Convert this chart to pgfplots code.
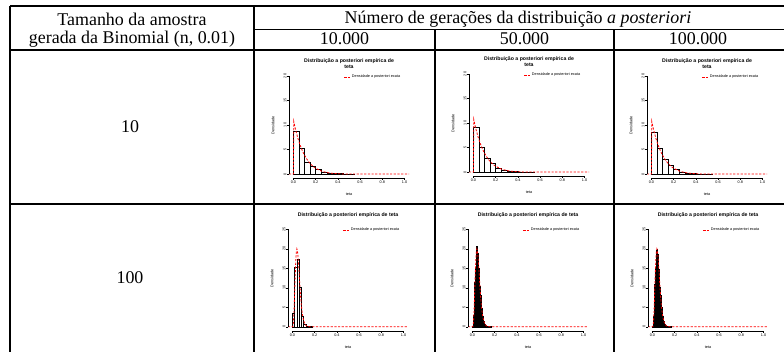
\documentclass[border=0pt]{standalone}
\usepackage{fontspec}
\setmainfont{Liberation Serif}
\newfontfamily\arial{Liberation Sans}
\usepackage{pgfplots}
\pgfplotsset{compat=1.18}
\newcommand\thumbfont{\arial\fontsize{3.8}{4.3}\selectfont}
\newcommand\thumbtitle{\arial\bfseries\fontsize{5.2}{5.6}\selectfont}
\newcommand\hdr{\fontsize{18}{20}\selectfont}
\pgfplotsset{
  thumb/.style={
    scale only axis, width=120bp, height=106bp,
    xmin=-0.04, xmax=1.04,
    axis line style={draw=none},
    tick align=outside, tick pos=left,
    major tick length=1.6bp,
    every tick/.style={black, line width=0.45bp},
    xtick={0,0.2,0.4,0.6,0.8,1}, xticklabels={0.0,0.2,0.4,0.6,0.8,1.0},
    /pgf/number format/assume math mode=true,
    tick label style={font=\thumbfont, inner sep=0.8bp},
    yticklabel style={rotate=90, anchor=south},
    xlabel={teta}, ylabel={Densidade},
    label style={font=\thumbfont},
    xlabel style={at={(axis description cs:0.5,-0.151)}, anchor=center},
    ylabel style={at={(axis description cs:-0.133,0.5)}, anchor=center},
    clip=false,
    legend style={draw=none, fill=none, font=\thumbfont, at={(0.458,0.953)}, anchor=west, inner sep=0pt, outer sep=0pt,
      nodes={inner sep=0.6bp}},
    legend image code/.code={\draw[red, line width=0.9bp, dash pattern=on 2.2bp off 1.3bp] (0bp,0bp) -- (6.5bp,0bp);},
  },
  row1/.style={thumb, ymin=-0.8, ymax=20.8, ytick={0,5,10,15,20}},
  row2/.style={thumb, ymin=-1.08, ymax=26.08, ytick={0,5,10,15,20,25}},
  hist/.style={ybar interval, draw=black, fill=white, line width=0.5bp, forget plot},
  dens/.style={red, line width=0.8bp, dash pattern=on 2.2bp off 1.5bp},
}
\newcommand\axlines[1]{%
  \draw[line width=0.5bp] ({axis cs:0,0}|-{rel axis cs:0,0}) -- ({axis cs:1,0}|-{rel axis cs:0,0});
  \draw[line width=0.5bp] ({rel axis cs:0,0}|-{axis cs:0,0}) -- ({rel axis cs:0,0}|-{axis cs:0,#1});
}
\begin{document}
\begin{tikzpicture}
\useasboundingbox (0,0) rectangle (784bp,352bp);
\fill[white] (0,0) rectangle (784bp,352bp);
% table rules
\begin{scope}[line width=1.6bp]
\draw (10bp,346bp) -- (784bp,346bp);
\draw (254bp,322.5bp) -- (784bp,322.5bp);
\draw (10bp,302bp) -- (784bp,302bp);
\draw (10bp,148bp) -- (784bp,148bp);
\draw (10bp,346bp) -- (10bp,0bp);
\draw (254bp,346bp) -- (254bp,0bp);
\draw (435bp,322.5bp) -- (435bp,0bp);
\draw (614bp,322.5bp) -- (614bp,0bp);
\end{scope}
% header text
\node[anchor=base, inner sep=0pt, font=\hdr] at (132bp,326bp) {Tamanho da amostra};
\node[anchor=base, inner sep=0pt, font=\hdr] at (132bp,308bp) {gerada da Binomial (n, 0.01)};
\node[anchor=base, inner sep=0pt, font=\hdr] at (518bp,328bp) {Número de gerações da distribuição \textit{a posteriori}};
\node[anchor=base, inner sep=0pt, font=\hdr] at (344.5bp,307.5bp) {10.000};
\node[anchor=base, inner sep=0pt, font=\hdr] at (524.5bp,307.5bp) {50.000};
\node[anchor=base, inner sep=0pt, font=\hdr] at (698bp,307.5bp) {100.000};
\node[anchor=base, inner sep=0pt, font=\hdr] at (130bp,219bp) {10};
\node[anchor=base, inner sep=0pt, font=\hdr] at (130bp,68bp) {100};

% ---------- Row 1, col 1
\begin{axis}[row1, at={(289bp,174bp)}, anchor=south west]
\addplot[hist] coordinates {(0,8.7) (0.05,5.3) (0.1,2.5) (0.15,1.6) (0.2,0.95) (0.25,0.45) (0.3,0.25) (0.35,0.12) (0.4,0.07) (0.45,0.04) (0.5,0.02) (0.55,0)};
\addplot[dens] coordinates {(-0.04,0) (0,0) (0.003,10.7) (0.01,9.95) (0.02,8.99) (0.03,8.11) (0.04,7.31) (0.05,6.59) (0.06,5.92) (0.07,5.32) (0.08,4.78) (0.09,4.28) (0.1,3.84) (0.12,3.06) (0.14,2.43) (0.16,1.92) (0.18,1.51) (0.2,1.18) (0.25,0.62) (0.3,0.31) (0.35,0.15) (0.4,0.067) (0.45,0.028) (0.5,0.011) (0.6,0.001) (0.8,0) (1.04,0)};
\addlegendentry{Densidade a posteriori exata}
\axlines{20}
\node[font=\thumbtitle, align=center, anchor=south, inner sep=0pt] at ([yshift=3.5bp]rel axis cs:0.5,1) {Distribuição a posteriori empírica de\\teta};
\end{axis}

% ---------- Row 1, col 2
\begin{axis}[row1, at={(469bp,176bp)}, anchor=south west]
\addplot[hist] coordinates {(0,9.1) (0.05,5.1) (0.1,2.8) (0.15,1.7) (0.2,0.8) (0.25,0.4) (0.3,0.2) (0.35,0.1) (0.4,0.05) (0.45,0.02) (0.5,0.01) (0.55,0)};
\addplot[dens] coordinates {(-0.04,0) (0,0) (0.003,10.7) (0.01,9.95) (0.02,8.99) (0.03,8.11) (0.04,7.31) (0.05,6.59) (0.06,5.92) (0.07,5.32) (0.08,4.78) (0.09,4.28) (0.1,3.84) (0.12,3.06) (0.14,2.43) (0.16,1.92) (0.18,1.51) (0.2,1.18) (0.25,0.62) (0.3,0.31) (0.35,0.15) (0.4,0.067) (0.45,0.028) (0.5,0.011) (0.6,0.001) (0.8,0) (1.04,0)};
\addlegendentry{Densidade a posteriori exata}
\axlines{20}
\node[font=\thumbtitle, align=center, anchor=south, inner sep=0pt] at ([yshift=3.5bp]rel axis cs:0.5,1) {Distribuição a posteriori empírica de\\teta};
\end{axis}

% ---------- Row 1, col 3
\begin{axis}[row1, at={(647bp,174bp)}, anchor=south west]
\addplot[hist] coordinates {(0,8.5) (0.05,5.3) (0.1,3.0) (0.15,1.75) (0.2,1.05) (0.25,0.45) (0.3,0.22) (0.35,0.1) (0.4,0.05) (0.45,0.03) (0.5,0.01) (0.55,0)};
\addplot[dens] coordinates {(-0.04,0) (0,0) (0.003,10.7) (0.01,9.95) (0.02,8.99) (0.03,8.11) (0.04,7.31) (0.05,6.59) (0.06,5.92) (0.07,5.32) (0.08,4.78) (0.09,4.28) (0.1,3.84) (0.12,3.06) (0.14,2.43) (0.16,1.92) (0.18,1.51) (0.2,1.18) (0.25,0.62) (0.3,0.31) (0.35,0.15) (0.4,0.067) (0.45,0.028) (0.5,0.011) (0.6,0.001) (0.8,0) (1.04,0)};
\addlegendentry{Densidade a posteriori exata}
\axlines{20}
\node[font=\thumbtitle, align=center, anchor=south, inner sep=0pt] at ([yshift=3.5bp]rel axis cs:0.5,1) {Distribuição a posteriori empírica de\\teta};
\end{axis}

% ---------- Row 2, col 1
\begin{axis}[row2, at={(288bp,21bp)}, anchor=south west]
\addplot[hist] coordinates {(0,3.4) (0.02,15.2) (0.04,17.4) (0.06,10.2) (0.08,2.8) (0.1,0.75) (0.12,0.2) (0.14,0.05) (0.16,0.05) (0.18,0)};
\addplot[dens] coordinates {(-0.04,0) (0,0) (0.005,0.15) (0.01,1.45) (0.015,4.53) (0.02,8.84) (0.025,13.27) (0.03,16.89) (0.035,19.14) (0.04,19.94) (0.045,19.45) (0.05,18.0) (0.055,15.96) (0.06,13.66) (0.065,11.34) (0.07,9.16) (0.075,7.23) (0.08,5.59) (0.085,4.24) (0.09,3.17) (0.095,2.34) (0.1,1.69) (0.105,1.21) (0.11,0.86) (0.115,0.6) (0.12,0.42) (0.13,0.19) (0.14,0.09) (0.15,0.04) (0.16,0.02) (0.18,0) (0.5,0) (1.04,0)};
\addlegendentry{Densidade a posteriori exata}
\axlines{25}
\node[font=\thumbtitle, anchor=south, inner sep=0pt] at ([yshift=7bp]rel axis cs:0.5,1) {Distribuição a posteriori empírica de teta};
\end{axis}

% ---------- Row 2, col 2
\begin{axis}[row2, at={(468bp,21bp)}, anchor=south west]
\addplot[hist] coordinates {(0,0.02) (0.005,0.55) (0.01,2.9) (0.015,6.4) (0.02,11.3) (0.025,15.0) (0.03,18.4) (0.035,20.6) (0.04,19.6) (0.045,18.9) (0.05,16.8) (0.055,14.9) (0.06,12.3) (0.065,10.4) (0.07,8.0) (0.075,6.5) (0.08,4.8) (0.085,3.7) (0.09,2.8) (0.095,1.9) (0.1,1.5) (0.105,1.0) (0.11,0.74) (0.115,0.48) (0.12,0.36) (0.125,0.22) (0.13,0.17) (0.135,0.1) (0.14,0.08) (0.145,0.04) (0.15,0.03) (0.155,0.02) (0.16,0.01) (0.165,0.008) (0.17,0)};
\addplot[dens] coordinates {(-0.04,0) (0,0) (0.005,0.15) (0.01,1.45) (0.015,4.53) (0.02,8.84) (0.025,13.27) (0.03,16.89) (0.035,19.14) (0.04,19.94) (0.045,19.45) (0.05,18.0) (0.055,15.96) (0.06,13.66) (0.065,11.34) (0.07,9.16) (0.075,7.23) (0.08,5.59) (0.085,4.24) (0.09,3.17) (0.095,2.34) (0.1,1.69) (0.105,1.21) (0.11,0.86) (0.115,0.6) (0.12,0.42) (0.13,0.19) (0.14,0.09) (0.15,0.04) (0.16,0.02) (0.18,0) (0.5,0) (1.04,0)};
\addlegendentry{Densidade a posteriori exata}
\axlines{25}
\node[font=\thumbtitle, anchor=south, inner sep=0pt] at ([yshift=7bp]rel axis cs:0.5,1) {Distribuição a posteriori empírica de teta};
\end{axis}

% ---------- Row 2, col 3
\begin{axis}[row2, at={(648bp,21bp)}, anchor=south west]
\addplot[hist] coordinates {(0,0.01) (0.005,0.6) (0.01,2.7) (0.015,6.7) (0.02,11.0) (0.025,15.3) (0.03,18.1) (0.035,19.6) (0.04,19.9) (0.045,18.7) (0.05,17.1) (0.055,14.7) (0.06,12.6) (0.065,10.1) (0.07,8.2) (0.075,6.3) (0.08,4.9) (0.085,3.7) (0.09,2.7) (0.095,2.0) (0.1,1.4) (0.105,1.05) (0.11,0.71) (0.115,0.51) (0.12,0.34) (0.125,0.25) (0.13,0.16) (0.135,0.11) (0.14,0.07) (0.145,0.05) (0.15,0.03) (0.155,0.02) (0.16,0.012) (0.165,0.008) (0.17,0)};
\addplot[dens] coordinates {(-0.04,0) (0,0) (0.005,0.15) (0.01,1.45) (0.015,4.53) (0.02,8.84) (0.025,13.27) (0.03,16.89) (0.035,19.14) (0.04,19.94) (0.045,19.45) (0.05,18.0) (0.055,15.96) (0.06,13.66) (0.065,11.34) (0.07,9.16) (0.075,7.23) (0.08,5.59) (0.085,4.24) (0.09,3.17) (0.095,2.34) (0.1,1.69) (0.105,1.21) (0.11,0.86) (0.115,0.6) (0.12,0.42) (0.13,0.19) (0.14,0.09) (0.15,0.04) (0.16,0.02) (0.18,0) (0.5,0) (1.04,0)};
\addlegendentry{Densidade a posteriori exata}
\axlines{25}
\node[font=\thumbtitle, anchor=south, inner sep=0pt] at ([yshift=7bp]rel axis cs:0.5,1) {Distribuição a posteriori empírica de teta};
\end{axis}
\end{tikzpicture}
\end{document}
